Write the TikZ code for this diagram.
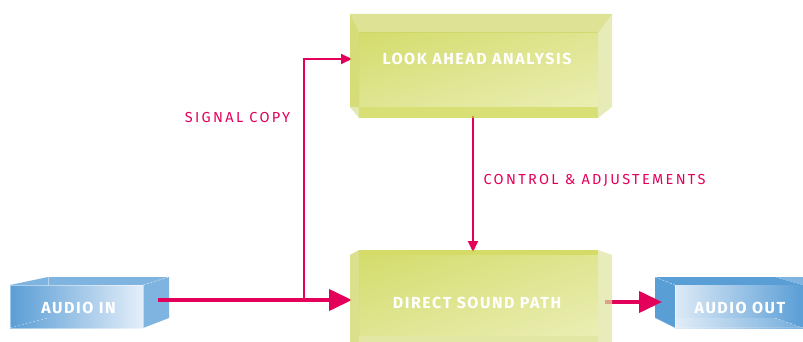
\documentclass[tikz,border=0pt]{standalone}
\usepackage{fontspec}
\setmainfont{Fira Sans}
\newfontfamily\lblfont[LetterSpace=16]{Fira Sans}
\newfontfamily\boxfont[LetterSpace=9.7]{Fira Sans}
\usetikzlibrary{arrows.meta,shadings}
\definecolor{mag}{RGB}{228,0,90}
\definecolor{bluedark}{RGB}{90,158,214}
\definecolor{bluemid}{RGB}{128,180,224}
\definecolor{bluelight}{RGB}{228,238,249}
\definecolor{grA}{RGB}{212,220,108}
\definecolor{grB}{RGB}{234,238,180}
\definecolor{grM}{RGB}{223,229,145}
\definecolor{lkTop}{RGB}{206,213,102}
\definecolor{lkLeft}{RGB}{196,206,62}
\definecolor{lkRight}{RGB}{221,226,152}
\definecolor{lkBot}{RGB}{199,209,59}
\definecolor{lkCorner}{RGB}{215,222,140}
\definecolor{dsTop}{RGB}{194,205,39}
\definecolor{dsLeft}{RGB}{202,211,91}
\definecolor{dsRight}{RGB}{222,228,156}
\definecolor{dsBot}{RGB}{226,231,164}
\begin{document}
\begin{tikzpicture}[x=1pt,y=-1pt,
  wire/.style={draw=mag, line width=2pt},
  mainwire/.style={draw=mag, line width=4pt},
  thintip/.style={-{Triangle[length=11pt,width=10pt]}},
  bigtip/.style={-{Triangle[length=23pt,width=21pt]}},
  band/.style={fill opacity=0.7},
  edge/.style={draw=white, draw opacity=0.45, line width=0.6pt},
  hidden/.style={draw=white, draw opacity=0.5, line width=0.6pt, dash pattern=on 2pt off 2pt},
  lbl/.style={text=mag, inner sep=0pt, text depth=0pt, font=\lblfont\fontsize{14.5}{17}\selectfont},
  boxlbl/.style={text=white, inner sep=0pt, text depth=0pt, font=\boxfont\bfseries\fontsize{16}{18}\selectfont},
]
\clip (0,0) rectangle (803,342);

% ---- AUDIO IN box
\fill[bluemid] (10,285) -- (48,277) -- (169,277) -- (143,285) -- cycle;
\fill[bluemid] (143,285) -- (169,277) -- (169,318) -- (143,328) -- cycle;
\shade[left color=bluedark, right color=bluelight] (10,285) rectangle (143,328);
\draw[hidden] (10,328) -- (48,318);
\draw[hidden] (143,285) -- (169,277);
\draw[edge] (48,277) -- (48,285);
\draw[edge] (10,285) rectangle (143,328);

% ---- AUDIO OUT box
\fill[bluedark] (655,277) -- (675,285) -- (675,328) -- (655,318) -- cycle;
\fill[bluedark] (655,277) -- (775,277) -- (803,285) -- (675,285) -- cycle;
\fill[bluemid] (775,277) -- (803,277) -- (803,285) -- cycle;
\shade[left color=bluelight!95!bluedark, right color=bluedark] (675,285) rectangle (803,328);
\fill[white, fill opacity=0.15] (675,318) -- (775,318) -- (803,328) -- (675,328) -- cycle;
\draw[hidden] (655,277) -- (675,285);
\draw[hidden] (775,318) -- (803,328);
\draw[edge] (655,318) -- (675,328) -- (803,328);
\draw[edge] (675,285) -- (675,328);

% ---- connector end points
\coordinate (inR) at (158,300);
\coordinate (dirL) at (352,300);
\coordinate (split) at (304,300);
\coordinate (lookL) at (352,59);
\coordinate (lookB) at (473,116);
\coordinate (dirT) at (473,252);
\coordinate (dirR) at (605,302);
\coordinate (outL) at (662,302);

% ---- connectors
\draw[mainwire,bigtip] (inR) -- (dirL);
\draw[wire,thintip] (split) |- (lookL);
\draw[wire,thintip] (lookB) -- (dirT);
\draw[mainwire,bigtip] (dirR) -- (outL);

% ---- LOOK AHEAD box
\shade[upper left=grA, lower right=grB, upper right=grM, lower left=grM] (359,33) rectangle (598,107);
\fill[band, fill=lkTop] (350,14) -- (612,14) -- (598,33) -- (359,33) -- cycle;
\fill[band, fill=lkLeft] (350,14) -- (359,33) -- (359,107) -- (350,107) -- cycle;
\fill[band, fill=lkRight] (598,33) -- (612,14) -- (612,107) -- (598,118) -- cycle;
\fill[band, fill=lkBot] (359,107) -- (598,107) -- (598,118) -- (359,118) -- cycle;
\fill[band, fill=lkCorner] (350,107) -- (359,107) -- (359,118) -- cycle;

% ---- DIRECT SOUND PATH box
\shade[upper left=grA, lower right=grB, upper right=grM, lower left=grM] (359,255) rectangle (598,336);
\fill[band, fill=dsTop] (359,250) -- (598,250) -- (598,255) -- (359,255) -- cycle;
\fill[band, fill=dsLeft] (350,255) -- (359,250) -- (359,350) -- (350,350) -- cycle;
\fill[band, fill=dsRight] (598,250) -- (612,255) -- (612,350) -- (598,350) -- cycle;
\fill[fill=dsBot] (359,336) rectangle (598,350);

% ---- texts
\node[boxlbl] (look) at (477,59) {LOOK AHEAD ANALYSIS};
\node[boxlbl] (direct) at (477,303) {DIRECT SOUND PATH};
\node[boxlbl] (ain) at (78.5,308) {AUDIO IN};
\node[boxlbl] (aout) at (740,308) {AUDIO OUT};
\node[lbl] (sig) at (237.5,117.5) {SIGNAL COPY};
\node[lbl] (ctl) at (594.5,179) {CONTROL \& ADJUSTEMENTS};
\end{tikzpicture}
\end{document}
